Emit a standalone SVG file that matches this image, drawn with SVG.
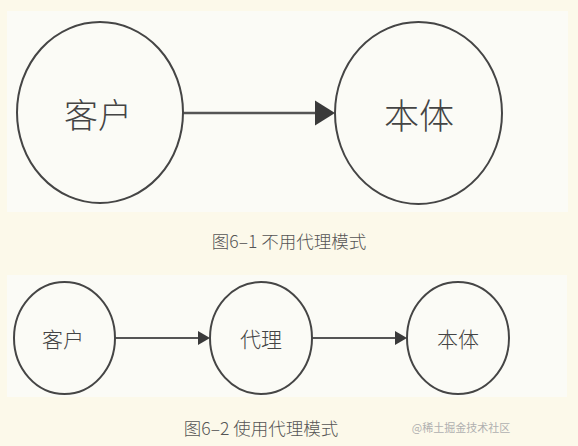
<svg xmlns="http://www.w3.org/2000/svg" width="578" height="446" viewBox="0 0 578 446">
<defs>
<style>
.node{fill:none;stroke:#454545;stroke-width:2}
.lbl{font-family:"Noto Sans CJK SC","Noto Sans CJK JP",sans-serif;fill:#444;text-anchor:middle;dominant-baseline:central;font-weight:300}
.cap{font-family:"Noto Sans CJK SC",sans-serif;fill:#555;font-size:17.5px;text-anchor:middle;dominant-baseline:central;font-weight:300}
.edge{stroke:#555;fill:none}
</style>
</defs>
<rect width="578" height="446" fill="#fcf9ea"/>
<rect x="7" y="11" width="561" height="201" fill="#fbfbf6"/>
<rect x="7" y="275" width="560" height="122" fill="#fbfbf6"/>
<g id="connectors">
<line class="edge" x1="183" y1="113" x2="315" y2="113" stroke-width="2.5"/>
<path d="M315,100.5 L335,113 L315,125.5 Z" fill="#3a3a3a"/>
<line class="edge" x1="115" y1="338" x2="198" y2="338" stroke-width="2"/>
<path d="M198,331 L210,338 L198,345 Z" fill="#3a3a3a"/>
<line class="edge" x1="312" y1="338" x2="395" y2="338" stroke-width="2"/>
<path d="M395,331 L407,338 L395,345 Z" fill="#3a3a3a"/>
</g>
<g id="client1">
<ellipse class="node" cx="100" cy="112.5" rx="83" ry="90.5"/>
<text class="lbl" x="98" y="113" font-size="34">客户</text>
</g>
<g id="subject1">
<ellipse class="node" cx="418.5" cy="113" rx="83.5" ry="91"/>
<text class="lbl" x="419" y="113" font-size="35">本体</text>
</g>
<text class="cap" x="289" y="240">图6–1 不用代理模式</text>
<g id="client2">
<ellipse class="node" cx="64.5" cy="338" rx="50.5" ry="56"/>
<text class="lbl" x="63" y="338" font-size="21">客户</text>
</g>
<g id="proxy2">
<ellipse class="node" cx="261" cy="338" rx="51" ry="56"/>
<text class="lbl" x="261" y="338" font-size="21">代理</text>
</g>
<g id="subject2">
<ellipse class="node" cx="458" cy="338" rx="51" ry="56"/>
<text class="lbl" x="458" y="338" font-size="21">本体</text>
</g>
<text class="cap" x="261" y="427">图6–2 使用代理模式</text>
<text x="461" y="427" font-family="Noto Sans CJK SC,sans-serif" font-size="11" fill="#b0b0b0" text-anchor="middle" dominant-baseline="central">@稀土掘金技术社区</text>
</svg>
